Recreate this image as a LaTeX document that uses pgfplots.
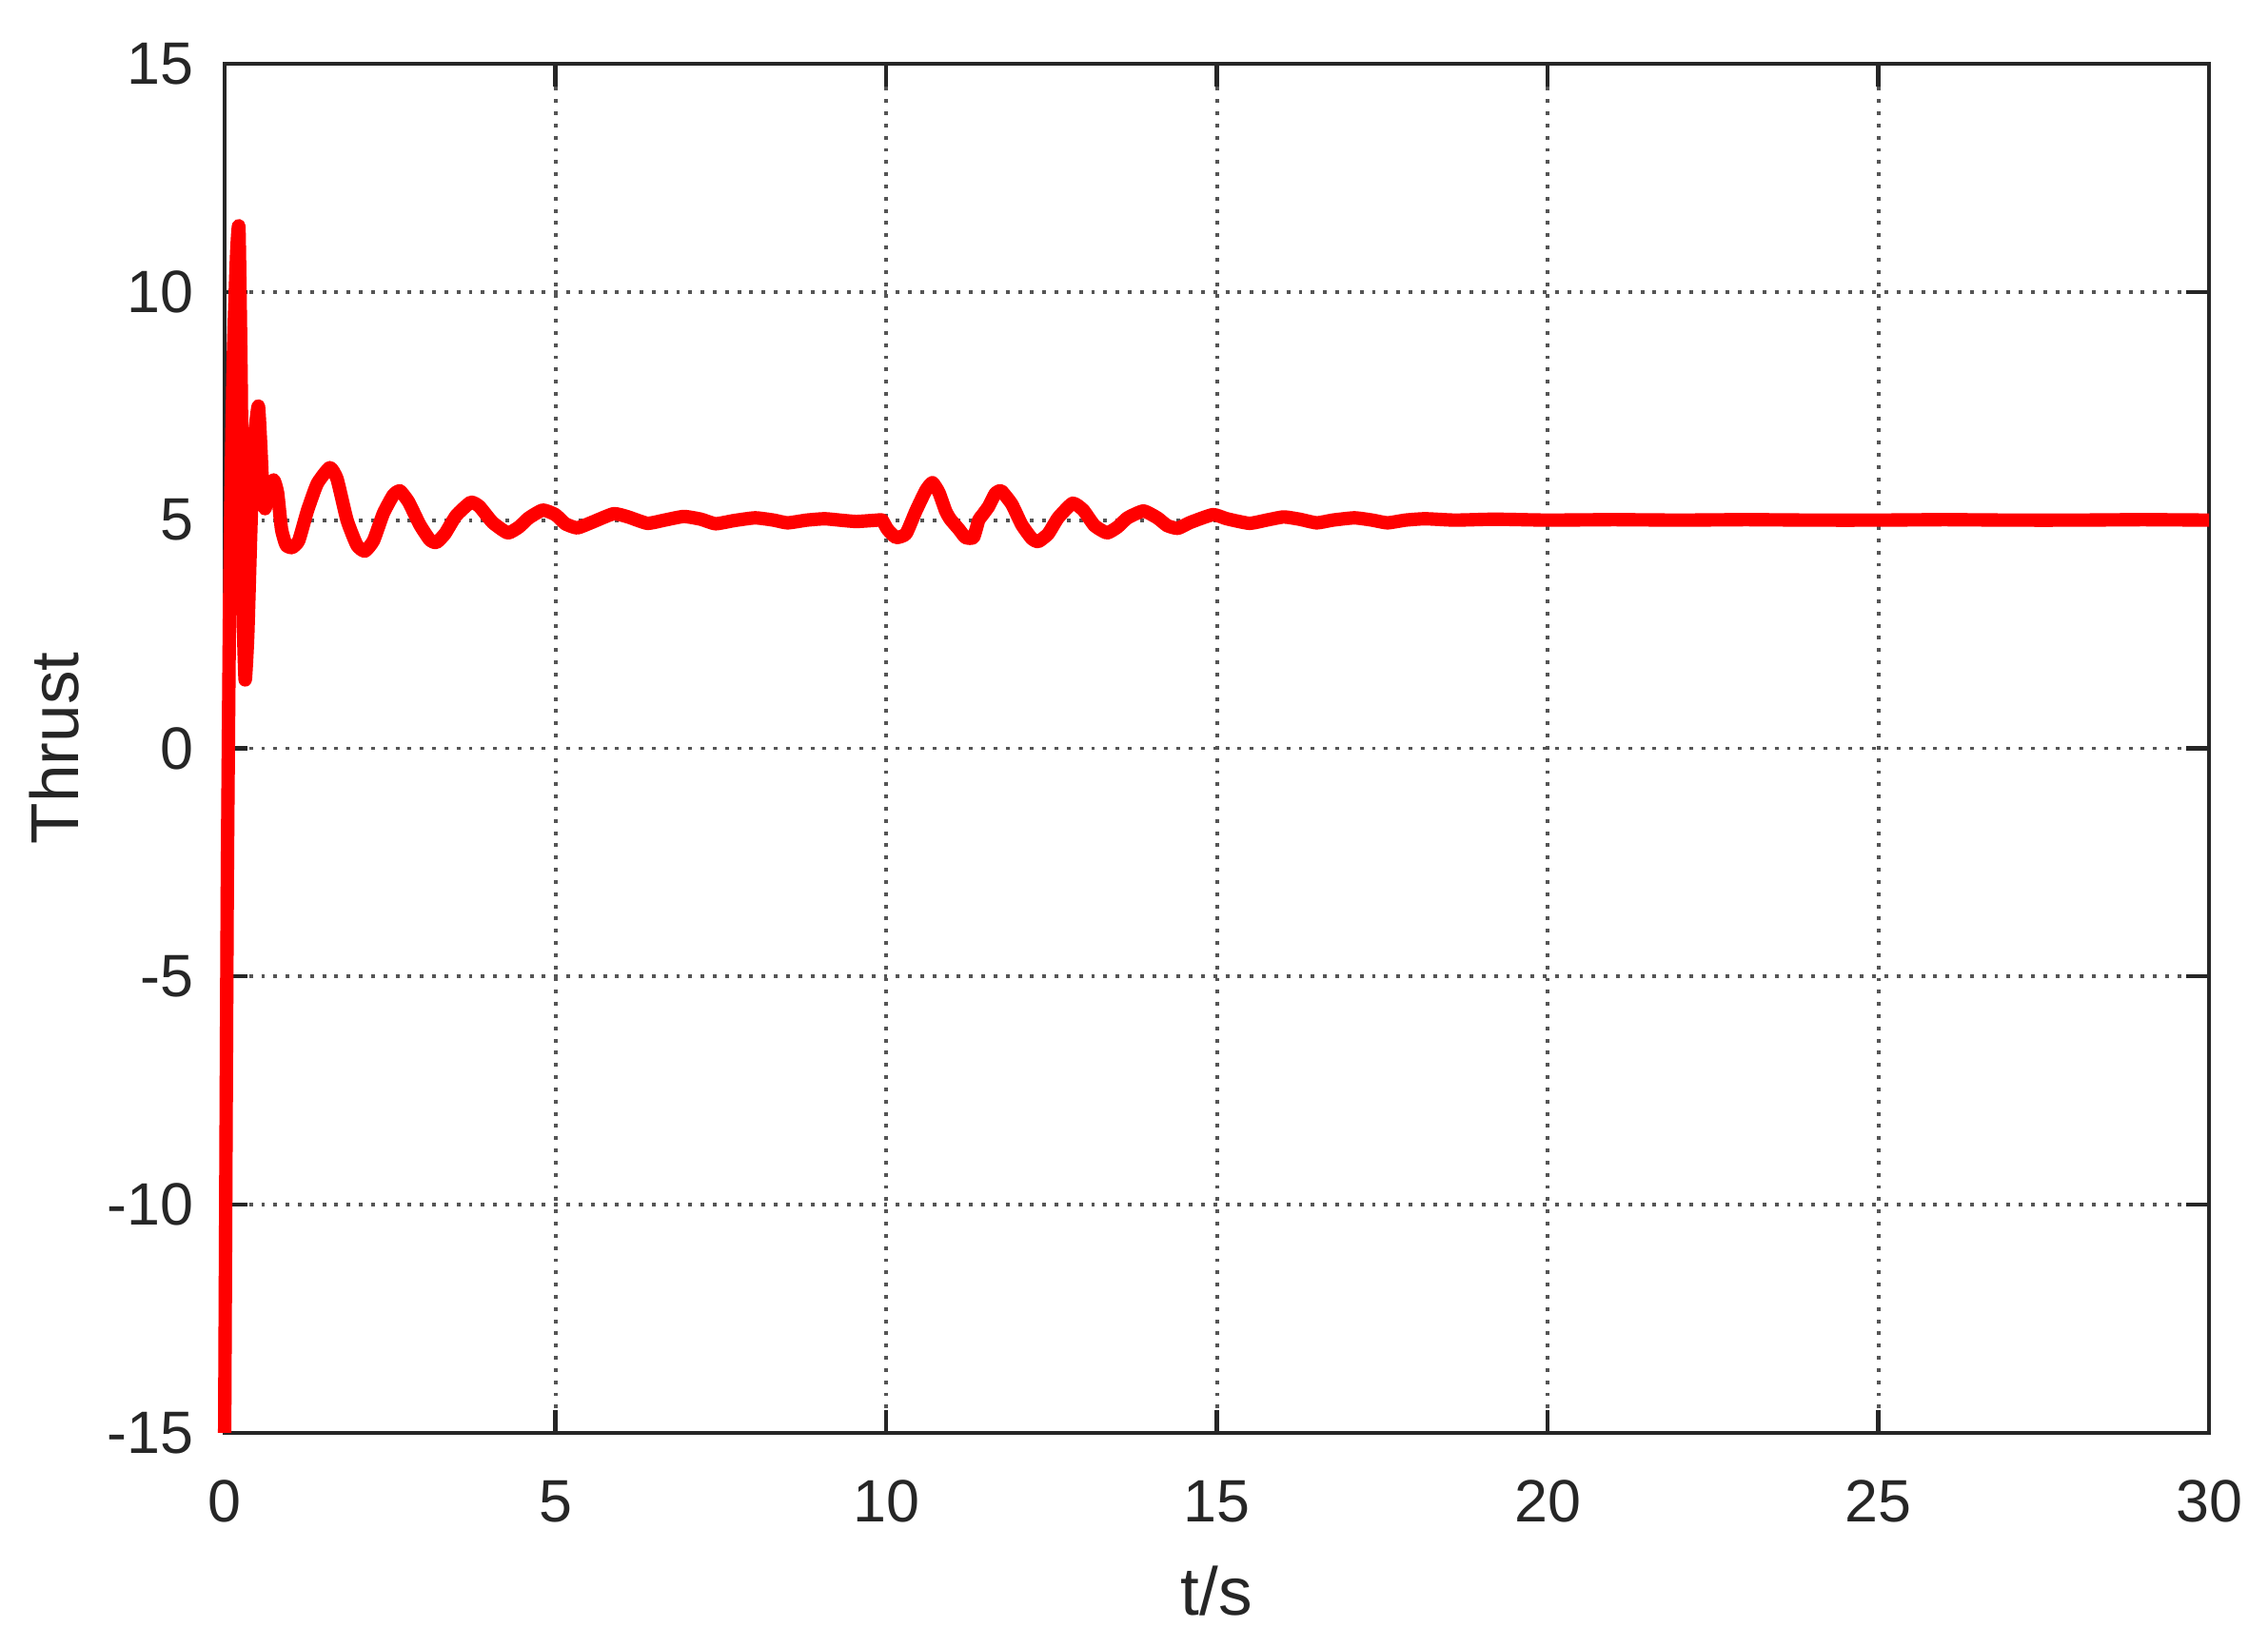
\documentclass[border=0pt]{standalone}
\usepackage{pgfplots}
\pgfplotsset{compat=1.18}
\usepackage{fontspec}
\setmainfont{Liberation Sans}
\definecolor{axcol}{RGB}{38,38,38}
\definecolor{gridcol}{RGB}{85,85,85}
\begin{document}
\begin{tikzpicture}
\begin{axis}[
  scale only axis,
  width=14cm, height=9.662cm,
  xmin=0, xmax=30, ymin=-15, ymax=15,
  xtick={0,5,10,15,20,25,30},
  ytick={-15,-10,-5,0,5,10,15},
  /pgf/number format/assume math mode=true,
  tick label style={font=\fontsize{12}{14}\selectfont, text=axcol},
  xticklabel style={anchor=north, inner sep=0pt, yshift=-0.329cm},
  yticklabel style={anchor=east, inner sep=0pt, xshift=-0.21cm},
  tick align=inside,
  major tick length=0.163cm,
  every tick/.style={axcol, line width=0.8pt},
  axis line style={axcol, line width=0.8pt},
  grid=major,
  major grid style={gridcol, line width=0.75pt, dash pattern=on 0.75pt off 1.7pt},
  xlabel={t/s}, ylabel={Thrust},
  xlabel style={font=\fontsize{13.6}{16}\selectfont, text=axcol, at={(axis description cs:0.5,0)}, anchor=base, yshift=-1.289cm, inner sep=0pt},
  ylabel style={font=\fontsize{13.6}{16}\selectfont, text=axcol, at={(axis description cs:-0.0859,0.5)}, anchor=center, rotate=0, inner sep=0pt},
  clip=false,
]
\addplot[red, line width=2.7pt, line join=round, line cap=butt, smooth, tension=0.3] coordinates {
(0,-15) (0.04,-3) (0.08,4) (0.13,8.5) (0.18,10.8) (0.216,11.4) (0.25,8) (0.28,3) (0.31,1.5)
(0.35,2.5) (0.40,5) (0.45,6.8) (0.51,7.5) (0.55,6.5) (0.58,5.5) (0.61,5.25) (0.66,5.6)
(0.74,5.88) (0.80,5.6) (0.86,4.8) (0.93,4.45) (1.02,4.4) (1.12,4.55) (1.25,5.2) (1.40,5.8)
(1.59,6.15) (1.70,5.9) (1.85,5.0) (2.0,4.45) (2.12,4.32) (2.25,4.55) (2.40,5.15) (2.55,5.55)
(2.65,5.64) (2.78,5.4) (2.95,4.9) (3.10,4.57) (3.20,4.51) (3.33,4.7) (3.50,5.1) (3.72,5.39)
(3.85,5.3) (4.05,4.95) (4.28,4.72) (4.45,4.85) (4.60,5.05) (4.81,5.22) (5.0,5.12) (5.15,4.92)
(5.33,4.83) (5.55,4.95) (5.88,5.14) (6.1,5.07) (6.39,4.93) (6.65,5.0) (6.94,5.08) (7.2,5.02)
(7.42,4.92) (7.7,4.99) (8.02,5.05) (8.3,5.0) (8.51,4.94) (8.8,5.0) (9.07,5.03) (9.3,5.0)
(9.55,4.97) (9.87,5.0) (9.94,5.0) (10.02,4.8) (10.15,4.62) (10.30,4.7) (10.45,5.2) (10.60,5.65)
(10.70,5.82) (10.80,5.6) (10.90,5.2) (10.97,5.02) (11.1,4.8) (11.2,4.62) (11.32,4.62) (11.40,5.0)
(11.45,5.1) (11.55,5.3) (11.65,5.58) (11.74,5.64) (11.90,5.35) (12.05,4.9) (12.20,4.6) (12.30,4.53)
(12.45,4.7) (12.60,5.05) (12.82,5.37) (12.98,5.22) (13.15,4.88) (13.34,4.72) (13.50,4.85) (13.65,5.05)
(13.89,5.2) (14.10,5.05) (14.25,4.88) (14.41,4.82) (14.60,4.95) (14.94,5.12) (15.15,5.03) (15.49,4.93)
(15.75,5.0) (16.01,5.07) (16.25,5.02) (16.51,4.94) (16.75,5.0) (17.08,5.05) (17.35,5.0) (17.58,4.94)
(17.85,5.0) (18.15,5.03) (18.6,5.0) (19.2,5.02) (20,5.0) (21,5.01) (22,5.0) (23,5.01) (24,5.0)
(25,5.0) (26,5.01) (27,5.0) (28,5.0) (29,5.01) (30,5.0)
};
\end{axis}
\path ([xshift=-1.585cm,yshift=-1.511cm]current axis.south west) rectangle ([xshift=0.416cm,yshift=0.45cm]current axis.north east);
\end{tikzpicture}
\end{document}
